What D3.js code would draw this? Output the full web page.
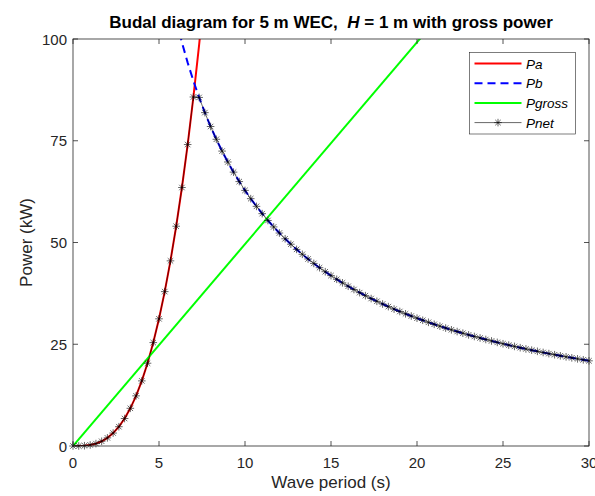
<!DOCTYPE html>
<html>
<head>
<meta charset="utf-8">
<script src="https://cdn.jsdelivr.net/npm/d3@7"></script>
<style>
  body { margin: 0; background: #fff; }
  text { font-family: "Liberation Sans", Arial, sans-serif; }
</style>
</head>
<body>
<script>
// Wave period grid (s), one step = 1/3 s
var periods = d3.range(0, 91).map(function(k) { return +(k / 3).toFixed(4); });

// Pa values for the first 24 periods (kW)
var paValues = [0, 0.01, 0.07, 0.25, 0.59, 1.16, 2.0, 3.18, 4.74, 6.75, 9.26, 12.32,
                16.0, 20.34, 25.41, 31.25, 37.93, 45.49, 54.0, 63.51, 74.07, 85.75, 98.59, 112.66];

// Pb values starting at the 19th period (T = 6 s)
var pbStart = 18;
var pbValues = [104.67, 99.16, 94.2, 89.71, 85.64, 81.91, 78.5, 75.36, 72.46, 69.78,
                67.29, 64.97, 62.8, 60.77, 58.88, 57.09, 55.41, 53.83, 52.33, 50.92,
                49.58, 48.31, 47.1, 45.95, 44.86, 43.81, 42.82, 41.87, 40.96, 40.09,
                39.25, 38.45, 37.68, 36.94, 36.23, 35.55, 34.89, 34.25, 33.64, 33.05,
                32.48, 31.93, 31.4, 30.89, 30.39, 29.9, 29.44, 28.98, 28.55, 28.12,
                27.71, 27.3, 26.91, 26.54, 26.17, 25.81, 25.46, 25.12, 24.79, 24.47,
                24.15, 23.85, 23.55, 23.26, 22.98, 22.7, 22.43, 22.16, 21.91, 21.66,
                21.41, 21.17, 20.93];

// Pgross straight line
var pgrossT = [0, 30];
var pgrossValues = [0, 148.8];

// Pnet = smaller of Pa and Pb
var pnetValues = [0, 0.01, 0.07, 0.25, 0.59, 1.16, 2.0, 3.18, 4.74, 6.75, 9.26, 12.32,
                  16.0, 20.34, 25.41, 31.25, 37.93, 45.49, 54.0, 63.51, 74.07, 85.75,
                  85.64, 81.91, 78.5, 75.36, 72.46, 69.78,
                  67.29, 64.97, 62.8, 60.77, 58.88, 57.09, 55.41, 53.83, 52.33, 50.92,
                  49.58, 48.31, 47.1, 45.95, 44.86, 43.81, 42.82, 41.87, 40.96, 40.09,
                  39.25, 38.45, 37.68, 36.94, 36.23, 35.55, 34.89, 34.25, 33.64, 33.05,
                  32.48, 31.93, 31.4, 30.89, 30.39, 29.9, 29.44, 28.98, 28.55, 28.12,
                  27.71, 27.3, 26.91, 26.54, 26.17, 25.81, 25.46, 25.12, 24.79, 24.47,
                  24.15, 23.85, 23.55, 23.26, 22.98, 22.7, 22.43, 22.16, 21.91, 21.66,
                  21.41, 21.17, 20.93];

var xTicks = [0, 5, 10, 15, 20, 25, 30];
var yTicks = [0, 25, 50, 75, 100];
var legendNames = ["Pa", "Pb", "Pgross", "Pnet"];

(function() {
var w = 595, h = 496;
var mLeft = 73, mRight = 589, mTop = 39, mBottom = 446;
var axisColor = "#262626";

var svg = d3.select("body").append("svg")
    .attr("width", w)
    .attr("height", h);

var x = d3.scaleLinear().domain([0, 30]).range([mLeft, mRight]);
var y = d3.scaleLinear().domain([0, 100]).range([mBottom, mTop]);

svg.append("clipPath").attr("id", "clip")
  .append("rect")
    .attr("x", mLeft).attr("y", mTop)
    .attr("width", mRight - mLeft).attr("height", mBottom - mTop);

var plot = svg.append("g").attr("clip-path", "url(#clip)");

var line = d3.line()
    .x(function(d) { return x(d[0]); })
    .y(function(d) { return y(d[1]); });

var paData = paValues.map(function(v, i) { return [periods[i], v]; });
var pbData = pbValues.map(function(v, i) { return [periods[i + pbStart], v]; });
var pgData = pgrossValues.map(function(v, i) { return [pgrossT[i], v]; });
var pnData = pnetValues.map(function(v, i) { return [periods[i], v]; });

plot.append("path").datum(paData)
    .attr("d", line).attr("fill", "none")
    .attr("stroke", "#ff0000").attr("stroke-width", 2);

plot.append("path").datum(pbData)
    .attr("d", line).attr("fill", "none")
    .attr("stroke", "#0000ff").attr("stroke-width", 2)
    .attr("stroke-dasharray", "8,5");

plot.append("path").datum(pgData)
    .attr("d", line).attr("fill", "none")
    .attr("stroke", "#00ff00").attr("stroke-width", 2);

plot.append("path").datum(pnData)
    .attr("d", line).attr("fill", "none")
    .attr("stroke", "#000").attr("stroke-width", 0.6);

// asterisk marker
function asterisk(g, cx, cy, r) {
  var d = "M" + (cx - r) + "," + cy + "H" + (cx + r) +
          "M" + cx + "," + (cy - r) + "V" + (cy + r);
  var q = r * 0.72;
  d += "M" + (cx - q) + "," + (cy - q) + "L" + (cx + q) + "," + (cy + q) +
       "M" + (cx - q) + "," + (cy + q) + "L" + (cx + q) + "," + (cy - q);
  g.append("path").attr("d", d)
    .attr("stroke", "#000").attr("stroke-width", 0.6).attr("fill", "none");
}

var marks = svg.append("g");
pnData.forEach(function(d) {
  asterisk(marks, x(d[0]), y(d[1]), 3.8);
});

// box and ticks
var axes = svg.append("g");
axes.append("rect")
    .attr("x", mLeft).attr("y", mTop)
    .attr("width", mRight - mLeft).attr("height", mBottom - mTop)
    .attr("fill", "none").attr("stroke", axisColor).attr("stroke-width", 0.8);

var tl = 5;
xTicks.forEach(function(t) {
  axes.append("line").attr("x1", x(t)).attr("x2", x(t))
      .attr("y1", mBottom).attr("y2", mBottom - tl)
      .attr("stroke", axisColor).attr("stroke-width", 0.8);
  axes.append("line").attr("x1", x(t)).attr("x2", x(t))
      .attr("y1", mTop).attr("y2", mTop + tl)
      .attr("stroke", axisColor).attr("stroke-width", 0.8);
  axes.append("text").attr("x", x(t)).attr("y", mBottom + 22)
      .attr("text-anchor", "middle").attr("font-size", 15)
      .attr("fill", axisColor).text(t);
});
yTicks.forEach(function(t) {
  axes.append("line").attr("x1", mLeft).attr("x2", mLeft + tl)
      .attr("y1", y(t)).attr("y2", y(t))
      .attr("stroke", axisColor).attr("stroke-width", 0.8);
  axes.append("line").attr("x1", mRight).attr("x2", mRight - tl)
      .attr("y1", y(t)).attr("y2", y(t))
      .attr("stroke", axisColor).attr("stroke-width", 0.8);
  axes.append("text").attr("x", mLeft - 6).attr("y", y(t) + 5.5)
      .attr("text-anchor", "end").attr("font-size", 15)
      .attr("fill", axisColor).text(t);
});

// labels
svg.append("text")
    .attr("x", (mLeft + mRight) / 2).attr("y", 488)
    .attr("text-anchor", "middle").attr("font-size", 17)
    .attr("fill", axisColor).text("Wave period (s)");

svg.append("text")
    .attr("transform", "translate(32," + ((mTop + mBottom) / 2) + ") rotate(-90)")
    .attr("text-anchor", "middle").attr("font-size", 17)
    .attr("fill", axisColor).text("Power (kW)");

var title = svg.append("text")
    .attr("x", (mLeft + mRight) / 2).attr("y", 28)
    .attr("text-anchor", "middle").attr("font-size", 17)
    .attr("font-weight", "bold").attr("fill", "#000")
    .style("white-space", "pre");
title.append("tspan").text("Budal diagram for 5 m WEC,  ");
title.append("tspan").attr("font-style", "italic").text("H");
title.append("tspan").text(" = 1 m with gross power");

// legend
var lg = svg.append("g");
lg.append("rect")
    .attr("x", 469.5).attr("y", 52.5).attr("width", 106).attr("height", 81.5)
    .attr("fill", "#fff").attr("stroke", axisColor).attr("stroke-width", 0.6);

var legendStyles = [
  { color: "#ff0000", width: 2, dash: null },
  { color: "#0000ff", width: 2, dash: "8,5" },
  { color: "#00ff00", width: 2, dash: null },
  { color: "#000", width: 0.6, dash: null }
];
legendNames.forEach(function(name, i) {
  var ly = 63.5 + i * 19.7;
  var s = legendStyles[i];
  lg.append("line")
      .attr("x1", 474.5).attr("x2", 521.5).attr("y1", ly).attr("y2", ly)
      .attr("stroke", s.color).attr("stroke-width", s.width)
      .attr("stroke-dasharray", s.dash);
  if (name === "Pnet") asterisk(lg, 498, ly, 3.8);
  lg.append("text")
      .attr("x", 526).attr("y", ly + 5)
      .attr("font-size", 13.5).attr("font-style", "italic")
      .attr("fill", "#000").text(name);
});
})();
</script>
</body>
</html>
